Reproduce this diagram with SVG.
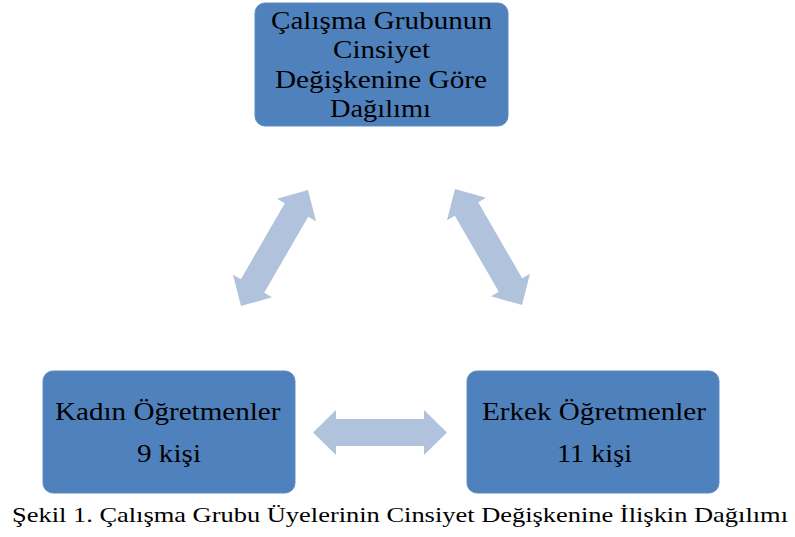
<svg xmlns="http://www.w3.org/2000/svg" width="795" height="537" viewBox="0 0 795 537">
  <style>
    .box { fill: #4F81BD; stroke: #5B8BC4; stroke-width: 1; }
    .lbl { font-family: 'Liberation Serif', 'Times New Roman', serif; font-size: 26px; fill: #000; }
    .cap { font-family: 'Liberation Serif', 'Times New Roman', serif; font-size: 21.5px; fill: #000; }
    .arr { fill: #B1C2DD; }
  </style>
  <defs>
    <!-- double-headed block arrow centred on the origin, 134 long -->
    <path id="dblArrow" d="M -67 0 L -44 -22.5 L -44 -13.5 L 44 -13.5 L 44 -22.5 L 67 0 L 44 22.5 L 44 13.5 L -44 13.5 L -44 22.5 Z"/>
  </defs>

  <g id="connectors">
    <use href="#dblArrow" class="arr" transform="translate(274.5 248) rotate(-60)"/>
    <use href="#dblArrow" class="arr" transform="translate(488.5 247) rotate(60)"/>
    <use href="#dblArrow" class="arr" transform="translate(380 432.5)"/>
  </g>

  <g id="node-top">
    <rect class="box" x="255" y="3" width="253" height="123" rx="10" ry="10"/>
    <text class="lbl" x="271" y="28.5" textLength="221" lengthAdjust="spacingAndGlyphs">Çalışma Grubunun</text>
    <text class="lbl" x="333" y="58" textLength="97" lengthAdjust="spacingAndGlyphs">Cinsiyet</text>
    <text class="lbl" x="275" y="88" textLength="212" lengthAdjust="spacingAndGlyphs">Değişkenine Göre</text>
    <text class="lbl" x="330" y="117" textLength="101" lengthAdjust="spacingAndGlyphs">Dağılımı</text>
  </g>

  <g id="node-kadin">
    <rect class="box" x="43" y="371" width="252" height="122" rx="10" ry="10"/>
    <text class="lbl" x="55" y="420" textLength="225.5" lengthAdjust="spacingAndGlyphs">Kadın Öğretmenler</text>
    <text class="lbl" x="137" y="462" textLength="64" lengthAdjust="spacingAndGlyphs">9 kişi</text>
  </g>

  <g id="node-erkek">
    <rect class="box" x="467" y="371" width="252" height="122" rx="10" ry="10"/>
    <text class="lbl" x="482" y="420" textLength="224" lengthAdjust="spacingAndGlyphs">Erkek Öğretmenler</text>
    <text class="lbl" x="557" y="462" textLength="75" lengthAdjust="spacingAndGlyphs">11 kişi</text>
  </g>

  <text class="cap" x="12" y="522" textLength="776" lengthAdjust="spacingAndGlyphs">Şekil 1. Çalışma Grubu Üyelerinin Cinsiyet Değişkenine İlişkin Dağılımı</text>
</svg>
